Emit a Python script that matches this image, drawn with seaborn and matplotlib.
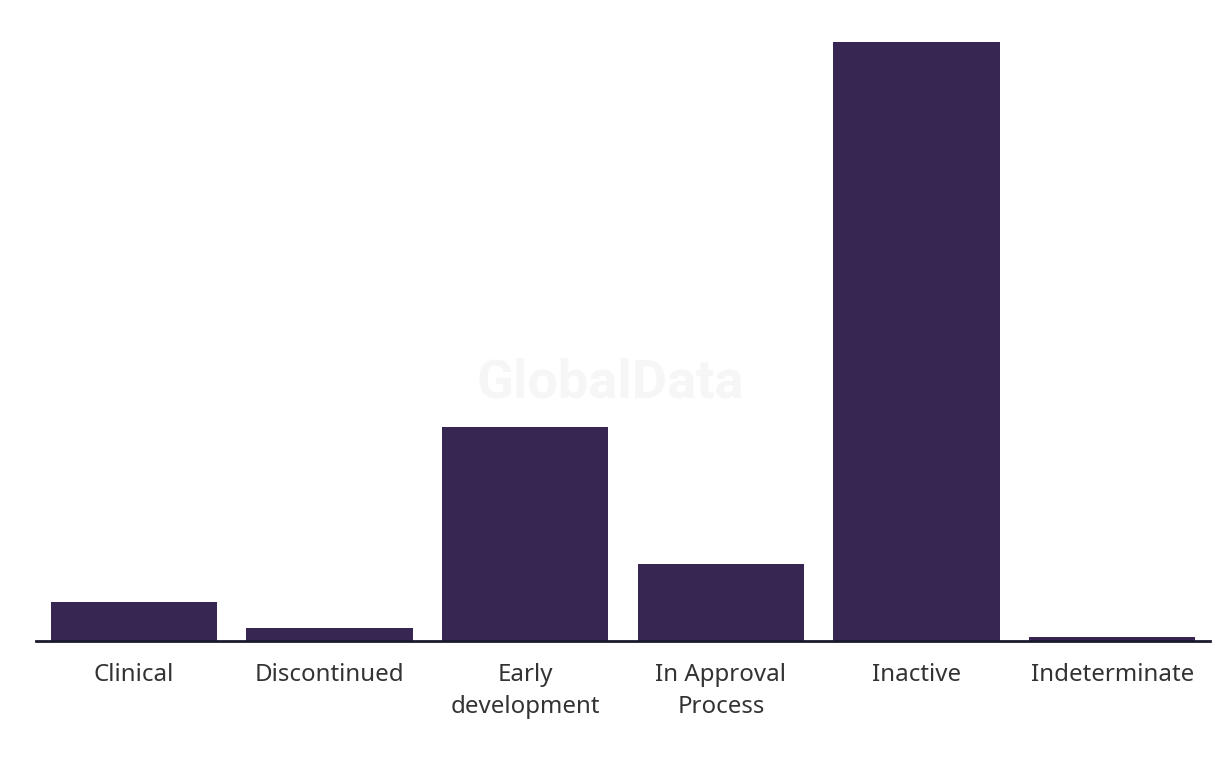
import matplotlib
matplotlib.use("Agg")
import matplotlib.pyplot as plt
import seaborn as sns
import pandas as pd

# Development stage counts
stages = ["Clinical", "Discontinued", "Early\ndevelopment", "In Approval\nProcess",
          "Inactive", "Indeterminate"]
counts = [9, 3, 50, 18, 140, 1]

sns.set_theme(style="white")
plt.rcParams["font.family"] = ["Noto Sans", "DejaVu Sans"]

df = pd.DataFrame({"stage": stages, "count": counts})

fig = plt.figure(figsize=(12.2, 7.66), dpi=100)
ax = fig.add_axes([36 / 1220, 125 / 766, 1174 / 1220, 612 / 766])

# faint watermark behind the bars
fig.text(0.5, 1 - 383 / 766, "GlobalData", ha="center", va="center", fontsize=39,
         fontweight="bold", family="Roboto", color="#f6f6f6", zorder=0)

sns.barplot(data=df, x="stage", y="count", color="#372552", saturation=1,
            width=0.85, linewidth=0, ax=ax, zorder=2)

ax.set_xlim(-0.5, len(stages) - 0.5)
ax.set_ylim(0, 140 * 612 / 599)
ax.patch.set_alpha(0)

for side in ["top", "right", "left"]:
    ax.spines[side].set_visible(False)
ax.spines["bottom"].set_color("#1a1a2e")
ax.spines["bottom"].set_linewidth(2)
ax.spines["bottom"].set_zorder(3)

ax.set_yticks([])
ax.set_xlabel("")
ax.set_ylabel("")
ax.tick_params(axis="x", length=0, pad=16, labelsize=17.3, labelcolor="#333333")
for lbl in ax.get_xticklabels():
    lbl.set_linespacing(1.45)

fig.savefig("out.png", dpi=100)
